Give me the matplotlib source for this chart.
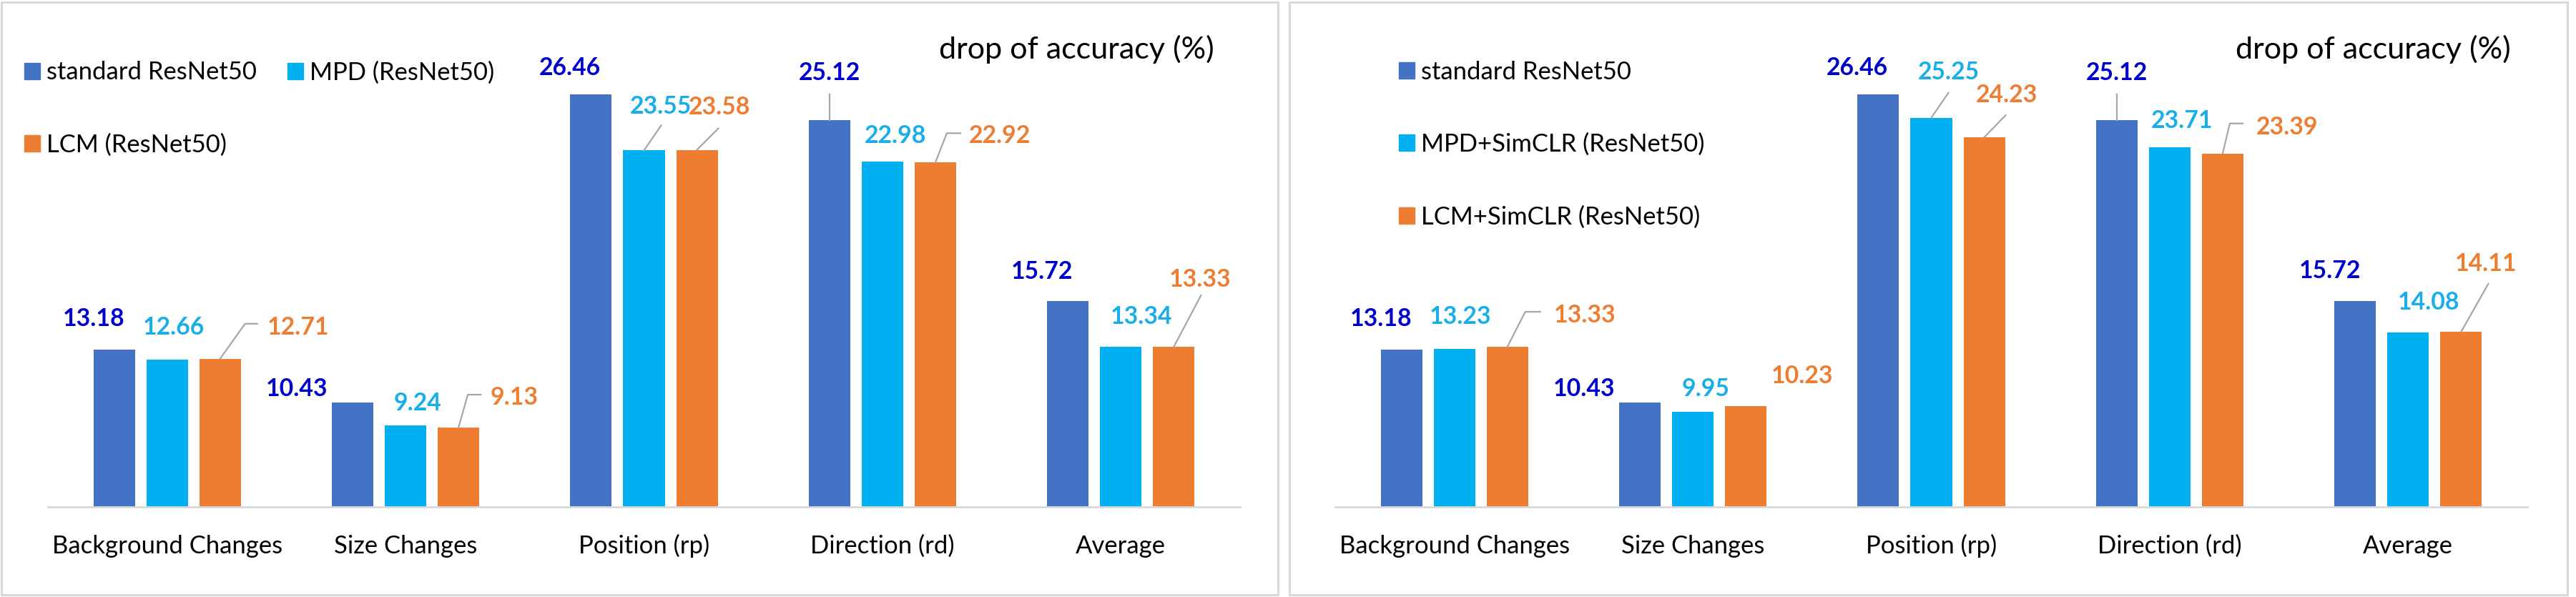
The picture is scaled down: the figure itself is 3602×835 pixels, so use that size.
import matplotlib.pyplot as plt
from matplotlib.patches import Rectangle, Patch
import numpy as np

plt.rcParams['font.family'] = ['Lato', 'DejaVu Sans']

categories = ['Background Changes', 'Size Changes', 'Position (rp)', 'Direction (rd)', 'Average']
standard = [13.18, 10.43, 26.46, 25.12, 15.72]
mpd = [12.66, 9.24, 23.55, 22.98, 13.34]
lcm = [12.71, 9.13, 23.58, 22.92, 13.33]
mpd_simclr = [13.23, 9.95, 25.25, 23.71, 14.08]
lcm_simclr = [13.33, 10.23, 24.23, 23.39, 14.11]
names_left = ['standard ResNet50', 'MPD (ResNet50)', 'LCM (ResNet50)']
names_right = ['standard ResNet50', 'MPD+SimCLR (ResNet50)', 'LCM+SimCLR (ResNet50)']
title = 'drop of accuracy (%)'

bar_colors = ['#4472C4', '#00B0F0', '#ED7D31']
label_colors = ['#0000CC', '#1AAEE8', '#ED7D31']

W, H = 3602, 835

# label offsets (pixels, from top centre of each bar)
offs_left = [
    [(-29, 45), (-78, 21), (-30, 39), (0, 68), (-36, 43)],
    [(9, 47), (17, 33), (23, 63), (18, 38), (29, 44)],
    [(109, 46), (78, 44), (31, 62), (90, 39), (37, 96)],
]
offs_right = [
    [(-29, 45), (-78, 21), (-30, 39), (0, 68), (-35, 44)],
    [(8, 47), (18, 34), (24, 66), (17, 39), (29, 44)],
    [(108, 46), (79, 44), (31, 61), (90, 39), (35, 97)],
]
# leader lines (pixels, from top centre of bar)
lead_left = {
    (0, 3): [(0, 0), (0, 36)],
    (1, 2): [(0, 0), (24, 35)],
    (2, 0): [(0, 0), (35, 49), (52, 49)],
    (2, 1): [(0, 0), (13, 46), (31, 46)],
    (2, 2): [(0, 0), (30, 30)],
    (2, 3): [(0, 0), (16, 41), (35, 41)],
    (2, 4): [(0, 0), (38, 72)],
}
lead_right = {
    (0, 3): [(0, 0), (0, 36)],
    (1, 2): [(0, 0), (24, 35)],
    (2, 0): [(0, 0), (25, 49), (46, 49)],
    (2, 2): [(0, 0), (30, 31)],
    (2, 3): [(0, 0), (10, 42), (28, 42)],
    (2, 4): [(0, 0), (38, 67)],
}

fig = plt.figure(figsize=(W / 100, H / 100), dpi=100)
renderer = fig.canvas.get_renderer()


def fit_size(s, target_px, weight='normal'):
    # font size (pt) that gives the text the width seen in the picture
    t = fig.text(0, 0, s, fontsize=20, fontweight=weight)
    w = t.get_window_extent(renderer).width
    t.remove()
    return 20 * target_px / w


fs_legend = fit_size('standard ResNet50', 294)
fs_tick = fit_size('Background Changes', 322)
fs_title = fit_size(title, 385)
fs_val = fit_size('26.46', 86, 'bold')
cap_val = 0.7165 * fs_val / 72 * 100
fs_legend_px = fs_legend / 72 * 100

for x0, x1 in [(2, 1787), (1803, 3590)]:
    fig.patches.append(Rectangle((x0 / W, 1 - 832 / H), (x1 - x0) / W, 829 / H,
                                 transform=fig.transFigure, fill=False,
                                 edgecolor='#D9D9D9', lw=2.2))


def panel(left_px, series, names, offs, leads, legend_cols, legend_pos, title_x):
    ax = fig.add_axes([left_px / W, (H - 709) / H, 1667 / W, 672 / H])
    ax.set_xlim(-0.5, 4.5)
    ax.set_ylim(5, 30)
    sx = 1667 / 5.0
    sy = 672 / 25.0
    x = np.arange(len(categories))
    step = 0.222
    width = 0.174
    handles = []
    for i, vals in enumerate(series):
        xs = x + (i - 1) * step
        ax.bar(xs, vals, width, color=bar_colors[i], zorder=2)
        handles.append(Patch(color=bar_colors[i], label=names[i]))
        for j, v in enumerate(vals):
            dx, dy = offs[i][j]
            ax.annotate('%.2f' % v, xy=(xs[j], v), xytext=(dx, dy - cap_val / 2),
                        textcoords='offset pixels', ha='center', va='baseline',
                        color=label_colors[i], fontsize=fs_val, fontweight='bold',
                        annotation_clip=False)
            if (i, j) in leads:
                pts = leads[(i, j)]
                ax.plot([xs[j] + p[0] / sx for p in pts], [v + p[1] / sy for p in pts],
                        color='#A6A6A6', lw=1.6, clip_on=False, zorder=3)
    for s in ['top', 'left', 'right']:
        ax.spines[s].set_visible(False)
    ax.spines['bottom'].set_color('#D9D9D9')
    ax.spines['bottom'].set_linewidth(2)
    ax.set_yticks([])
    ax.set_xticks(x)
    ax.set_xticklabels([])
    ax.tick_params(axis='x', length=0)
    for j, c in enumerate(categories):
        ax.annotate(c, xy=(j, 0), xycoords=('data', 'axes fraction'), xytext=(0, -65),
                    textcoords='offset pixels', ha='center', va='baseline',
                    fontsize=fs_tick, annotation_clip=False)

    if legend_cols == 2:
        hs = [handles[0], handles[2], handles[1]]
    else:
        hs = handles
    fig.legend(handles=hs, ncol=legend_cols, loc='center left',
               bbox_to_anchor=(legend_pos[0] / W, 1 - legend_pos[1] / H),
               frameon=False, fontsize=fs_legend, handlelength=22 / fs_legend_px,
               handleheight=22 / fs_legend_px, handletextpad=9 / fs_legend_px,
               labelspacing=2.0, columnspacing=43 / fs_legend_px, borderpad=0,
               borderaxespad=0)
    fig.text(title_x / W, 1 - 82 / H, title, fontsize=fs_title,
             ha='center', va='baseline')
    return ax


panel(67, [standard, mpd, lcm], names_left, offs_left, lead_left, 2, (34, 152), 1505)
panel(1867, [standard, mpd_simclr, lcm_simclr], names_right, offs_right, lead_right, 1,
      (1956, 202), 3318)

fig.savefig('out.png', dpi=100)
